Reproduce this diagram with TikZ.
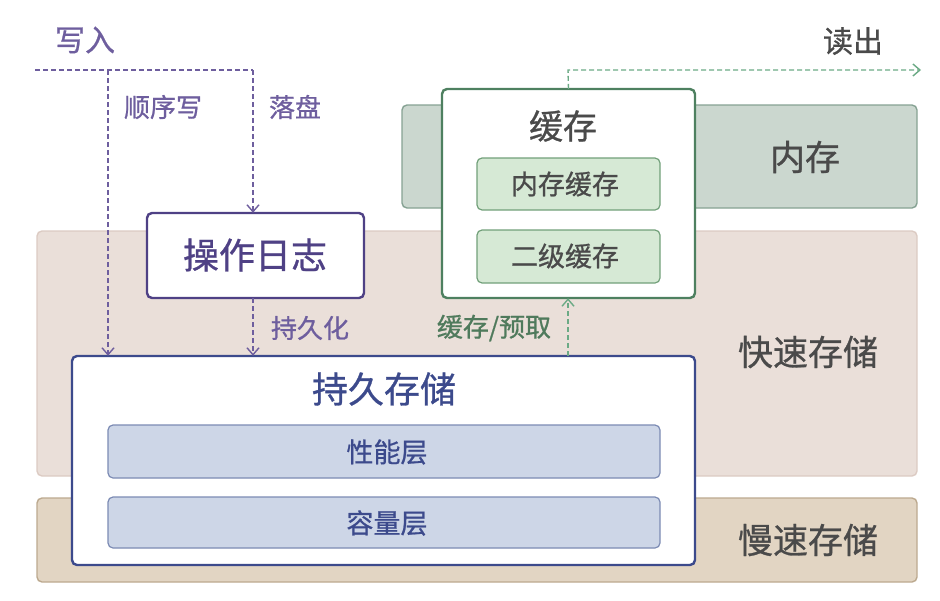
\documentclass[tikz,border=0pt]{standalone}
\usepackage{fontspec}
\setmainfont{Noto Sans CJK SC}[FakeBold=0.8]
\usetikzlibrary{arrows.meta}
\definecolor{memfill}{HTML}{CBD7CF}
\definecolor{memdraw}{HTML}{86A293}
\definecolor{fastfill}{HTML}{EADFD9}
\definecolor{fastdraw}{HTML}{DCCBC3}
\definecolor{slowfill}{HTML}{E2D5C3}
\definecolor{slowdraw}{HTML}{BCA98F}
\definecolor{cgreen}{HTML}{4E8060}
\definecolor{igreen}{HTML}{D6E9D5}
\definecolor{igreend}{HTML}{72A07A}
\definecolor{lpurple}{HTML}{4F4185}
\definecolor{wpurple}{HTML}{6E5E9E}
\definecolor{pblue}{HTML}{3C4A8C}
\definecolor{iblue}{HTML}{CDD6E7}
\definecolor{iblued}{HTML}{7C8BB4}
\definecolor{lbl}{HTML}{4A4A4A}
\definecolor{rgreen}{HTML}{6BAA85}
\definecolor{tgreen}{HTML}{4F7A5C}
\begin{document}
\begin{tikzpicture}[x=1pt,y=-1pt,
  band/.style={rounded corners=5pt,line width=1.4pt},
  bigbox/.style={rounded corners=5pt,line width=2.4pt,fill=white},
  inner/.style={rounded corners=5pt,line width=1.2pt},
  lay/.style={font=\fontsize{35}{37}\selectfont,text=lbl},
  innertext/.style={font=\fontsize{27}{29}\selectfont},
  flow/.style={line width=1.4pt,dash pattern=on 5pt off 3pt,-{Straight Barb[length=7pt,width=12pt,line width=1.4pt]}},
  flowlabel/.style={font=\fontsize{26}{28}\selectfont}]
\useasboundingbox (0,0) rectangle (940,600);
% bands
\draw[band,fill=memfill,draw=memdraw] (402,105) rectangle (917,208);
\draw[band,fill=fastfill,draw=fastdraw] (37,231) rectangle (917,476);
\draw[band,fill=slowfill,draw=slowdraw] (37,498) rectangle (917,582);
\node[lay] (mem) at (805,157) {内存};
\node[lay] (fast) at (808,352) {快速存储};
\node[lay] (slow) at (808,540) {慢速存储};
% cache
\draw[bigbox,draw=cgreen] (442,89) rectangle (695,298);
\node (cache) at (568.5,193.5) [minimum width=253pt,minimum height=209pt] {};
\node[font=\fontsize{34}{36}\selectfont,text=lbl] (cachet) at (563,126) {缓存};
\draw[inner,fill=igreen,draw=igreend] (477,158) rectangle (660,210);
\node[innertext,text=lbl] (memcache) at (565,184) {内存缓存};
\draw[inner,fill=igreen,draw=igreend] (477,230) rectangle (660,283);
\node[innertext,text=lbl] (l2cache) at (565,256) {二级缓存};
% oplog
\draw[bigbox,draw=lpurple] (147,213) rectangle (364,298);
\node (oplog) at (255.5,255.5) [minimum width=217pt,minimum height=85pt] {};
\node[font=\fontsize{36}{38}\selectfont,text=lpurple] at (255,255) {操作日志};
% persistent
\draw[bigbox,draw=pblue] (72,356) rectangle (695,565);
\node (pers) at (383.5,460.5) [minimum width=623pt,minimum height=209pt] {};
\node[font=\fontsize{36}{38}\selectfont,text=pblue] (perst) at (384,389) {持久存储};
\draw[inner,fill=iblue,draw=iblued] (108,425) rectangle (660,478);
\node[innertext,text=pblue] (perf) at (387,452) {性能层};
\draw[inner,fill=iblue,draw=iblued] (108,497) rectangle (660,548);
\node[innertext,text=pblue] (cap) at (387,523) {容量层};
% write paths
\node[font=\fontsize{30}{32}\selectfont,text=wpurple] (write) at (85,40) {写入};
\coordinate (ws) at (35,70);
\coordinate (wc1) at (108,70);
\coordinate (wc2) at (253,70);
\draw[wpurple,line width=1.4pt,dash pattern=on 5pt off 3pt] (ws) -- (wc2);
\draw[flow,wpurple] (wc2) -- (wc2 |- oplog.north);
\draw[flow,wpurple] (wc1) -- (wc1 |- pers.north);
\node[flowlabel,text=wpurple] (seq) at (163,107) {顺序写};
\node[flowlabel,text=wpurple] (disk) at (295,107) {落盘};
\draw[flow,wpurple] (wc2 |- oplog.south) -- (wc2 |- pers.north);
\node[flowlabel,text=wpurple] (persist) at (310,328) {持久化};
% read paths
\coordinate (rx) at (568,70);
\draw[flow,rgreen] (rx |- pers.north) -- (rx |- cache.south);
\node[flowlabel,text=tgreen] (prefetch) at (494,328) {缓存/预取};
\coordinate (re) at (921,70);
\draw[flow,rgreen] (cache.north) -- (rx) -- (re);
\node[font=\fontsize{30}{32}\selectfont,text=lbl] (read) at (853,41) {读出};
\end{tikzpicture}
\end{document}
